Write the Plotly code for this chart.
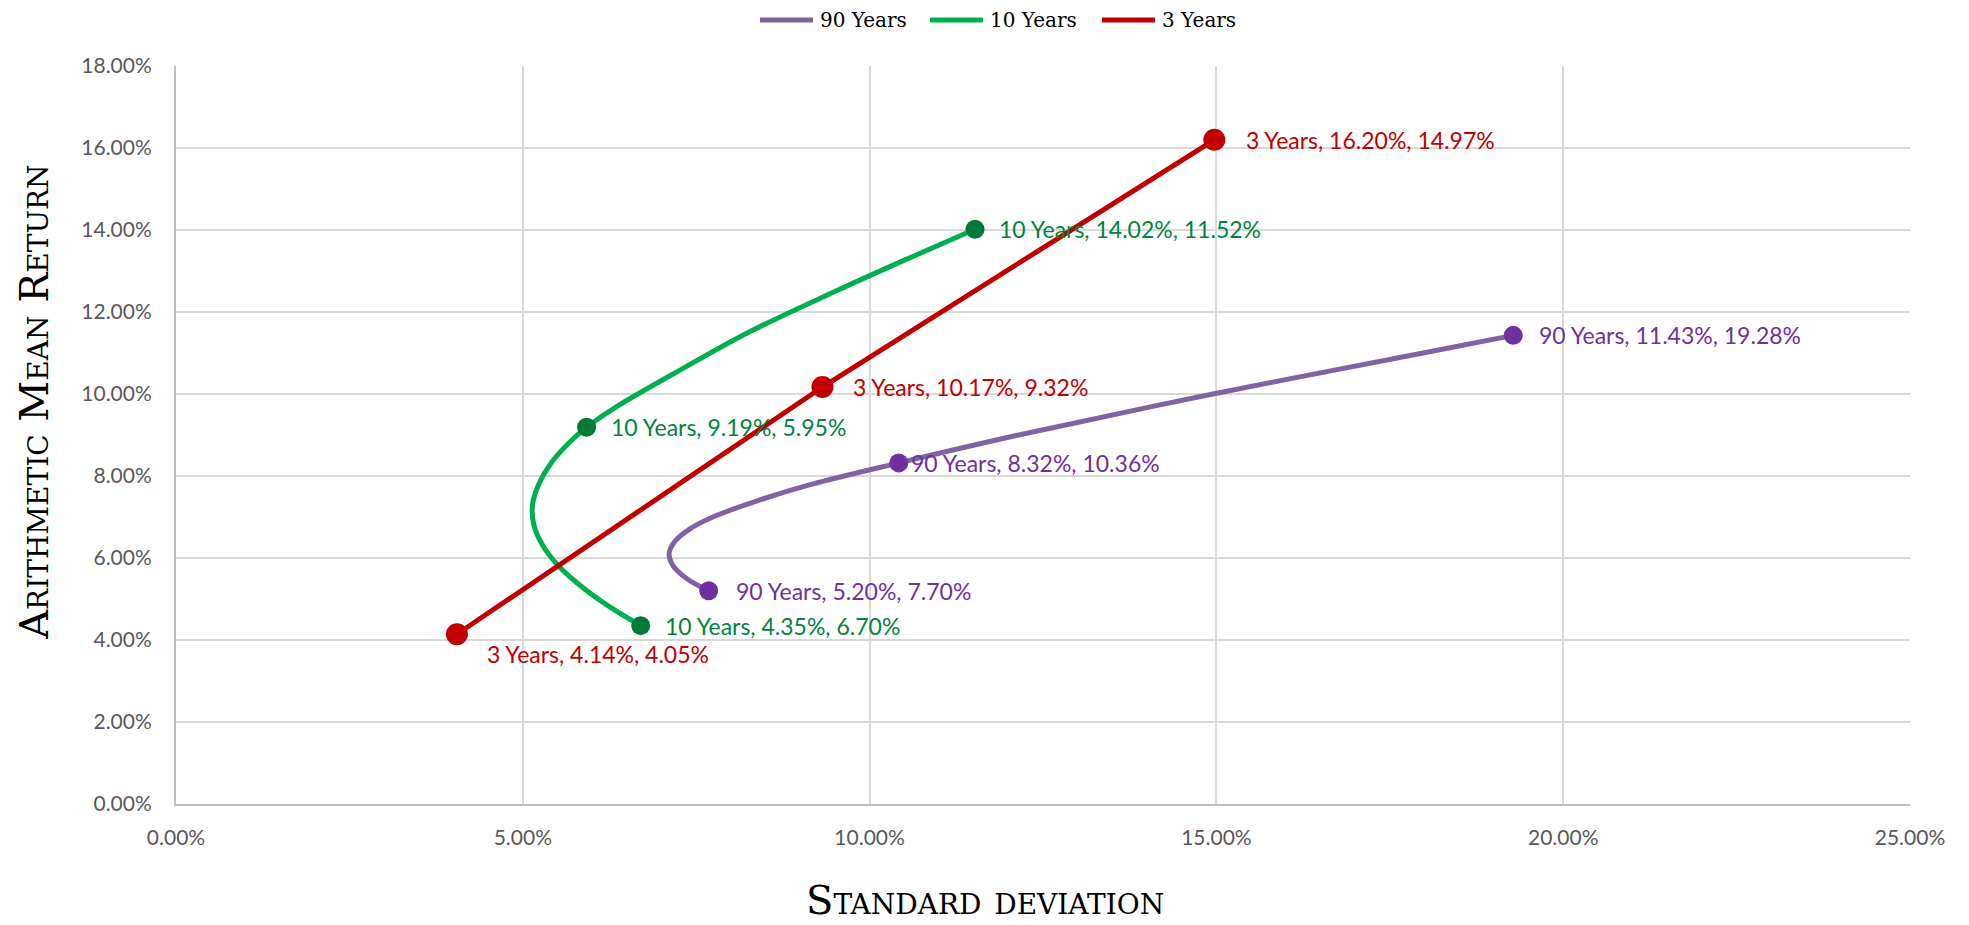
import plotly.graph_objects as go

# ---------------- data ----------------
series_names = ["90 Years", "10 Years", "3 Years"]

# labelled points: standard deviation (x) and arithmetic mean return (y)
sd_90 = [0.0768, 0.1042, 0.1928]
ret_90 = [0.0520, 0.0832, 0.1143]
lbl_90 = ["90 Years, 5.20%, 7.70%", "90 Years, 8.32%, 10.36%", "90 Years, 11.43%, 19.28%"]

sd_10 = [0.0670, 0.0592, 0.1152]
ret_10 = [0.0435, 0.0919, 0.1402]
lbl_10 = ["10 Years, 4.35%, 6.70%", "10 Years, 9.19%, 5.95%", "10 Years, 14.02%, 11.52%"]

sd_3 = [0.0405, 0.0932, 0.1497]
ret_3 = [0.0414, 0.1017, 0.1620]
lbl_3 = ["3 Years, 4.14%, 4.05%", "3 Years, 10.17%, 9.32%", "3 Years, 16.20%, 14.97%"]

# smoothed curve paths
curve_sd_90 = [0.0768, 0.0736, 0.0717, 0.0711, 0.0719, 0.0740, 0.0774, 0.0839, 0.0917,
               0.1042, 0.1215, 0.1495, 0.1798, 0.1928]
curve_ret_90 = [0.0520, 0.0550, 0.0580, 0.0610, 0.0640, 0.0670, 0.0700, 0.0740, 0.0780,
                0.0832, 0.0900, 0.1000, 0.1100, 0.1143]

curve_sd_10 = [0.0670, 0.0626, 0.0585, 0.0552, 0.0529, 0.0516, 0.0514, 0.0523, 0.0540,
               0.0566, 0.0592, 0.0636, 0.0718, 0.0825, 0.0950, 0.1055, 0.1152]
curve_ret_10 = [0.0435, 0.0480, 0.0530, 0.0580, 0.0630, 0.0680, 0.0730, 0.0780, 0.0830,
                0.0880, 0.0919, 0.0970, 0.1050, 0.1150, 0.1250, 0.1330, 0.1402]

curve_sd_3 = sd_3
curve_ret_3 = ret_3

x_ticks = [0, 0.05, 0.10, 0.15, 0.20, 0.25]
y_ticks = [0, 0.02, 0.04, 0.06, 0.08, 0.10, 0.12, 0.14, 0.16, 0.18]

# ---------------- styles ----------------
line_colors = ["#8064A2", "#00B050", "#C00000"]
marker_colors = ["#7030A0", "#007A37", "#C00000"]
label_colors = ["#7030A0", "#00843D", "#C00000"]
marker_sizes = [19, 19, 22]
label_xshift = [[25, 10, 24], [22, 22, 22], [28, 29, 30]]
label_yshift = [[0, 0, 0], [0, 0, 0], [-20, 0, 0]]

# custom legend placement (paper coordinates)
legend_line_x = [(0.3368, 0.3674), (0.4348, 0.4654), (0.5340, 0.5646)]
legend_text_x = [0.3702, 0.4683, 0.5675]
legend_y = 1.0625

SERIF = "DejaVu Serif"
SANS = "Lato"

fig = go.Figure()

curves = [(curve_sd_90, curve_ret_90, "spline"),
          (curve_sd_10, curve_ret_10, "spline"),
          (curve_sd_3, curve_ret_3, "linear")]
for i, (cx, cy, shape) in enumerate(curves):
    fig.add_trace(go.Scatter(
        x=cx, y=cy, mode="lines", name=series_names[i],
        line=dict(color=line_colors[i], width=5, shape=shape, smoothing=1.0),
        hoverinfo="skip"))

points = [(sd_90, ret_90, lbl_90), (sd_10, ret_10, lbl_10), (sd_3, ret_3, lbl_3)]
annotations = []
shapes = []
for i, (px, py, lbls) in enumerate(points):
    fig.add_trace(go.Scatter(
        x=px, y=py, mode="markers", name=series_names[i], showlegend=False,
        marker=dict(color=marker_colors[i], size=marker_sizes[i])))
    for j in range(len(px)):
        annotations.append(dict(
            x=px[j], y=py[j], xref="x", yref="y", text=lbls[j], showarrow=False,
            xanchor="left", yanchor="middle",
            xshift=label_xshift[i][j], yshift=label_yshift[i][j],
            font=dict(family=SANS, size=23, color=label_colors[i])))

# legend (drawn at top centre)
for i, name in enumerate(series_names):
    x0, x1 = legend_line_x[i]
    shapes.append(dict(type="line", xref="paper", yref="paper", x0=x0, x1=x1,
                       y0=legend_y, y1=legend_y,
                       line=dict(color=line_colors[i], width=5)))
    annotations.append(dict(text=name, xref="paper", yref="paper", x=legend_text_x[i],
                            y=legend_y, xanchor="left", yanchor="middle", showarrow=False,
                            font=dict(family=SERIF, size=20, color="#000000")))

# axis titles
annotations.append(dict(
    text="Standard deviation", xref="paper", yref="paper", x=0.4663, y=-0.1302,
    xanchor="center", yanchor="middle", showarrow=False,
    font=dict(family=SERIF, size=40, color="#000000", variant="small-caps")))
annotations.append(dict(
    text="Arithmetic Mean Return", xref="paper", yref="paper", x=-0.0819, y=0.545,
    xanchor="center", yanchor="middle", showarrow=False, textangle=-90,
    font=dict(family=SERIF, size=40, color="#000000", variant="small-caps")))

fig.update_layout(
    width=1969, height=925,
    margin=dict(l=168, r=67, t=58, b=129),
    plot_bgcolor="white", paper_bgcolor="white",
    showlegend=False,
    annotations=annotations,
    shapes=shapes,
    xaxis=dict(range=[0, 0.25], tickvals=x_ticks, tickformat=".2%",
               showgrid=True, gridcolor="#D9D9D9", gridwidth=2,
               showline=True, linecolor="#BFBFBF", linewidth=2,
               zeroline=False, ticks="", ticklabelstandoff=14,
               tickfont=dict(family=SANS, size=21, color="#595959")),
    yaxis=dict(range=[0, 0.18], tickvals=y_ticks, tickformat=".2%",
               showgrid=True, gridcolor="#D9D9D9", gridwidth=2,
               showline=True, linecolor="#BFBFBF", linewidth=2,
               zeroline=False, ticks="", ticklabelstandoff=18,
               tickfont=dict(family=SANS, size=21, color="#595959")),
)

fig.write_html("out.html")
